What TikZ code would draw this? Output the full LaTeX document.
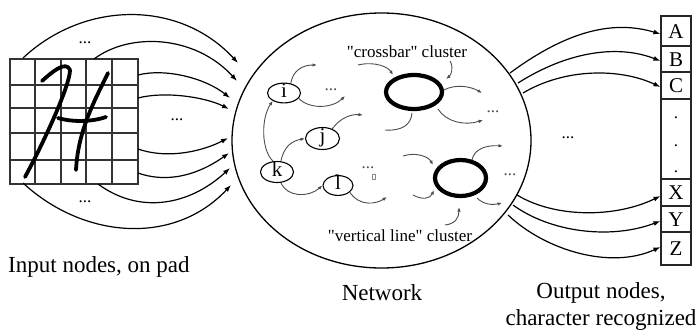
\documentclass[tikz,border=0pt]{standalone}
\usepackage{fontspec}
\setmainfont{Liberation Serif}
\newfontfamily\rawserif{Liberation Serif}
\usetikzlibrary{arrows.meta,shapes.geometric}
\begin{document}
\begin{tikzpicture}[x=1pt,y=-1pt,
  bigarrow/.style={draw=black, line width=1.2pt, -{Latex[length=7pt,width=5pt]}},
  smallarrow/.style={draw=black!70, line width=0.9pt, -{Latex[length=4.5pt,width=3.5pt]}},
  plainline/.style={draw=black!70, line width=0.9pt},
  gridline/.style={draw=black!80, line width=1.2pt},
  penstroke/.style={draw=black, line width=3.8pt, line cap=round, line join=round},
  netnode/.style={ellipse, draw, line width=1.1pt, inner sep=0pt, font=\fontsize{21}{21}\selectfont, text height=11pt, text depth=3pt},
  clusternode/.style={ellipse, draw, line width=4.2pt, inner sep=0pt},
  cell/.style={rectangle, draw=black!85, line width=1.1pt, minimum width=30pt, inner sep=0pt, font=\fontsize{21}{21}\selectfont, text height=14pt, text depth=0pt},
  biglabel/.style={font=\fontsize{23}{27}\selectfont, inner sep=0pt},
  clabel/.style={font=\rawserif\fontsize{17}{17}\selectfont, inner sep=0pt},
  dotsb/.style={font=\fontsize{17}{17}\selectfont, inner sep=0pt},
  dotsg/.style={font=\fontsize{17}{17}\selectfont, inner sep=0pt, text=black!70},
]
\useasboundingbox (0,0) rectangle (700,330);

% ---------- input pad ----------
\draw[gridline] (10,59) rectangle (138,184);
\foreach \gx in {35,61,86,112} \draw[gridline] (\gx,59) -- (\gx,184);
\foreach \gy in {85,108,133,160} \draw[gridline] (10,\gy) -- (138,\gy);
\draw[penstroke] (42,81) .. controls (52,72) and (66,60) .. (70,70) .. controls (70,85) and (45,140) .. (25,177);
\draw[penstroke] (58,118) .. controls (75,123) and (95,121) .. (106,117);
\draw[penstroke] (108,73) .. controls (95,100) and (78,130) .. (76,170);

% ---------- network ----------
\node[ellipse, draw, line width=1.3pt, minimum width=299pt, minimum height=255pt, inner sep=0pt] (net) at (381.5,140.5) {};

% left arrows
\coordinate (s1) at (23,58);   \coordinate (e1) at (238,63);
\coordinate (s2) at (94,59);   \coordinate (e2) at (237,81);
\coordinate (s3) at (138,75);  \coordinate (e3) at (230,98);
\coordinate (s4) at (138,98);  \coordinate (e4) at (229,109);
\coordinate (s5) at (138,149); \coordinate (e5) at (228,138);
\coordinate (s6) at (138,173); \coordinate (e6) at (229,153);
\coordinate (s7) at (98,184);  \coordinate (e7) at (230,168);
\coordinate (s8) at (23,183);  \coordinate (e8) at (231,185);
\draw[bigarrow] (s1) .. controls (85,0) and (180,0) .. (e1);
\draw[bigarrow] (s2) .. controls (130,32) and (195,35) .. (e2);
\draw[bigarrow] (s3) .. controls (165,68) and (205,78) .. (e3);
\draw[bigarrow] (s4) .. controls (165,91) and (205,97) .. (e4);
\draw[bigarrow] (s5) .. controls (170,160) and (205,150) .. (e5);
\draw[bigarrow] (s6) .. controls (175,186) and (208,168) .. (e6);
\draw[bigarrow] (s7) .. controls (140,215) and (190,205) .. (e7);
\draw[bigarrow] (s8) .. controls (85,240) and (175,245) .. (e8);
\node[dotsb] (ld1) at (85,43) {...};
\node[dotsb] (ld2) at (177,120) {...};
\node[dotsb] (ld3) at (85,202) {...};

% inner nodes
\node[netnode, minimum width=33pt, minimum height=19pt] (i) at (284,93) {i};
\node[netnode, minimum width=34pt, minimum height=22pt] (j) at (322.5,138.5) {j};
\node[netnode, minimum width=33pt, minimum height=21pt] (k) at (277,172) {k};
\node[netnode, minimum width=30pt, minimum height=18pt] (l) at (338,185.5) {l};

\coordinate (n1) at (317,65);
\coordinate (n2) at (345,96);
\coordinate (n5) at (363,115);
\coordinate (n7) at (387,197);
\draw[smallarrow] (i.55) .. controls (293,70) and (303,65) .. (n1);
\draw[smallarrow] (i.-20) .. controls (310,110) and (333,108) .. (n2);
\draw[smallarrow] (k.110) .. controls (261,150) and (261,118) .. (i.-145);
\draw[smallarrow] (k.70) .. controls (284,146) and (292,141) .. (j.west);
\draw[smallarrow] (j.45) .. controls (341,117) and (352,114) .. (n5);
\draw[smallarrow] (k.-70) .. controls (287,197) and (308,198) .. (l.west);
\draw[smallarrow] (l.-30) .. controls (360,207) and (376,204) .. (n7);
\node[dotsg] (nd1) at (331,90) {...};
\node[dotsg] (nd2) at (368,168) {...};
\draw[black!45, line width=0.5pt] (372,174) rectangle (375,179);

% crossbar cluster
\node[clusternode, minimum width=56pt, minimum height=34pt] (cb) at (414,92) {};
\node[clabel, anchor=base] (cbl) at (407,57) {"crossbar" cluster};
\coordinate (c1s) at (358,65);  \coordinate (c1e) at (393,75);
\coordinate (c2s) at (450,61);  \coordinate (c2e) at (446,79);
\coordinate (c3s) at (444,90);  \coordinate (c3e) at (482,93);
\coordinate (c4s) at (438,109); \coordinate (c4e) at (483,120);
\coordinate (c5s) at (385,130); \coordinate (c5e) at (412,113);
\draw[smallarrow] (c1s) .. controls (375,61) and (388,67) .. (c1e);
\draw[smallarrow] (c2s) .. controls (454,68) and (451,75) .. (c2e);
\draw[smallarrow] (c3s) .. controls (455,84) and (470,86) .. (c3e);
\draw[smallarrow] (c4s) .. controls (446,122) and (465,126) .. (c4e);
\draw[plainline] (c5s) .. controls (402,131) and (411,125) .. (c5e);
\node[dotsg] (nd3) at (493,112) {...};

% vertical line cluster
\node[clusternode, minimum width=51pt, minimum height=36pt] (vl) at (460.5,178) {};
\node[clabel, anchor=base] (vll) at (400,241) {"vertical line" cluster};
\coordinate (v1s) at (403,156); \coordinate (v1e) at (433,165);
\coordinate (v2s) at (413,195); \coordinate (v2e) at (434,190);
\coordinate (v3s) at (472,160); \coordinate (v3e) at (503,146);
\coordinate (v4s) at (477,198); \coordinate (v4e) at (502,203);
\coordinate (v5s) at (445,225); \coordinate (v5e) at (459,207);
\draw[smallarrow] (v1s) .. controls (415,152) and (428,156) .. (v1e);
\draw[smallarrow] (v2s) .. controls (422,200) and (430,199) .. (v2e);
\draw[smallarrow] (v3s) .. controls (474,149) and (486,145) .. (v3e);
\draw[smallarrow] (v4s) .. controls (484,205) and (493,205) .. (v4e);
\draw[smallarrow] (v5s) .. controls (455,224) and (459,218) .. (v5e);
\node[dotsg] (nd4) at (510,175) {...};

% ---------- output column ----------
\node[cell, minimum height=30pt] (A) at (676,31) {A};
\node[cell, minimum height=26pt] (B) at (676,59) {B};
\node[cell, minimum height=27pt] (C) at (676,85.5) {C};
\node[cell, minimum height=80pt] (gap) at (676,139) {};
\node[cell, minimum height=27pt] (X) at (676,192.5) {X};
\node[cell, minimum height=26pt] (Y) at (676,219) {Y};
\node[cell, minimum height=33pt] (Z) at (676,248.5) {Z};
\node[dotsb] (od1) at (676,118) {.};
\node[dotsb] (od2) at (676,146) {.};
\node[dotsb] (od3) at (676,172) {.};

\coordinate (r1) at (510,73);
\coordinate (r2) at (518,83);
\coordinate (r3) at (523,93);
\coordinate (r4) at (517,195);
\coordinate (r5) at (513,205);
\coordinate (r6) at (508,215);
\draw[bigarrow] (r1) .. controls (575,25) and (620,22) .. ([yshift=-3pt]A.west);
\draw[bigarrow] (r2) .. controls (570,50) and (620,45) .. ([yshift=-2pt]B.west);
\draw[bigarrow] (r3) .. controls (565,68) and (620,68) .. ([yshift=-1.5pt]C.west);
\draw[bigarrow] (r4) .. controls (555,218) and (615,218) .. ([yshift=-3.5pt]X.west);
\draw[bigarrow] (r5) .. controls (550,232) and (610,240) .. ([yshift=-2pt]Y.west);
\draw[bigarrow] (r6) .. controls (545,250) and (610,270) .. ([yshift=1.5pt]Z.west);
\node[dotsb] (rd) at (568,138) {...};

% ---------- labels ----------
\node[biglabel, anchor=base west] (inlab) at (8,272) {Input nodes, on pad};
\node[biglabel, anchor=base] (netlab) at (382,300) {Network};
\node[biglabel, anchor=base] (outlab1) at (601,298) {Output nodes,};
\node[biglabel, anchor=base] (outlab2) at (601,325) {character recognized};
\end{tikzpicture}
\end{document}
